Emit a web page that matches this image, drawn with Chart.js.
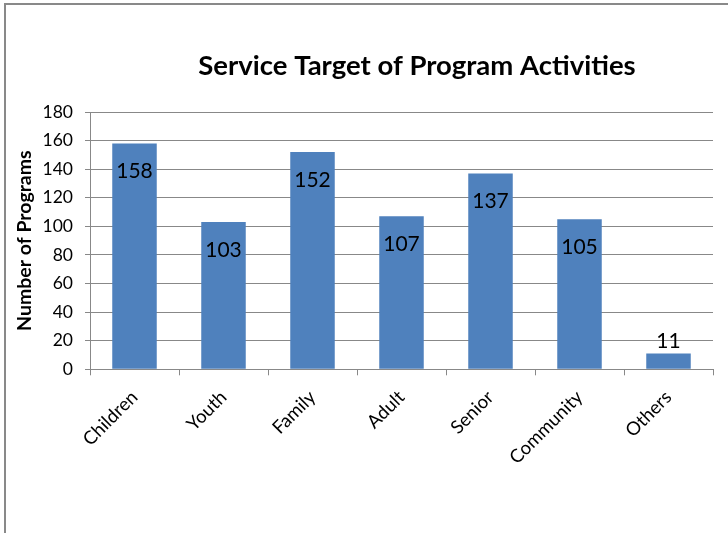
<!DOCTYPE html>
<html>
<head>
<meta charset="utf-8">
<script src="https://cdn.jsdelivr.net/npm/chart.js@4/dist/chart.umd.min.js"></script>
<style>
html,body{margin:0;padding:0;background:#fff;overflow:hidden;width:728px;height:533px;}
#frame{position:absolute;left:4px;top:3px;width:800px;height:700px;border:2px solid #898989;box-sizing:border-box;}
#c{position:absolute;left:0;top:0;}
</style>
</head>
<body>
<div id="frame"></div>
<canvas id="c" width="728" height="533"></canvas>
<script>
const categories = ["Children", "Youth", "Family", "Adult", "Senior", "Community", "Others"];
const programCounts = [158, 103, 152, 107, 137, 105, 11];
const yTickMin = 0, yTickMax = 180, yTickStep = 20;
const chartTitle = "Service Target of Program Activities";
const yAxisTitle = "Number of Programs";

const FONT = "Lato, 'Open Sans', sans-serif";
const GRAY = "#888888";

const labelPlugin = {
  id: 'barLabels',
  afterDatasetsDraw(chart) {
    const ctx = chart.ctx;
    const meta = chart.getDatasetMeta(0);
    ctx.save();
    ctx.font = "21px " + FONT;
    ctx.fillStyle = "#000";
    ctx.textAlign = "center";
    ctx.textBaseline = "middle";
    meta.data.forEach((bar, i) => {
      const v = chart.data.datasets[0].data[i];
      const h = bar.base - bar.y;
      const y = h > 40 ? bar.y + 28 : bar.y - 12;
      ctx.fillText(String(v), bar.x, y);
    });
    ctx.restore();
  }
};

const titlePlugin = {
  id: 'customTitle',
  afterDraw(chart) {
    const ctx = chart.ctx;
    ctx.save();
    ctx.font = "bold 27.5px " + FONT;
    ctx.fillStyle = "#000";
    ctx.textAlign = "center";
    ctx.textBaseline = "middle";
    ctx.fillText(chartTitle, 417, 66);
    ctx.restore();
  }
};

new Chart(document.getElementById('c'), {
  type: 'bar',
  data: {
    labels: categories,
    datasets: [{
      data: programCounts,
      backgroundColor: "#4F81BD",
      borderWidth: 0,
      barPercentage: 0.5,
      categoryPercentage: 1.0
    }]
  },
  options: {
    responsive: false,
    animation: false,
    devicePixelRatio: 1,
    layout: { padding: { left: 10, right: 15, top: 112, bottom: 0 } },
    plugins: {
      legend: { display: false },
      tooltip: { enabled: false },
      title: { display: false }
    },
    scales: {
      x: {
        grid: { offset: true, drawOnChartArea: false, drawTicks: true, tickLength: 6, color: GRAY },
        border: { display: true, color: GRAY, width: 1 },
        ticks: {
          autoSkip: false, maxRotation: 45, minRotation: 45,
          color: "#000", font: { family: FONT, size: 18.5 }, padding: 11
        },
        afterFit(s) { s.height = 163.7; }
      },
      y: {
        min: yTickMin, max: yTickMax,
        grid: { color: GRAY, tickLength: 5, drawTicks: true },
        border: { display: true, color: GRAY, width: 1 },
        ticks: {
          stepSize: yTickStep, color: "#000",
          font: { family: FONT, size: 17.5 }, padding: 12
        },
        title: {
          display: true, text: yAxisTitle, color: "#000",
          font: { family: FONT, size: 19.5, weight: "bold" },
          padding: { top: 3, bottom: 0 }
        },
        afterFit(s) { s.width = 80; }
      }
    }
  },
  plugins: [labelPlugin, titlePlugin]
});
</script>
</body>
</html>
